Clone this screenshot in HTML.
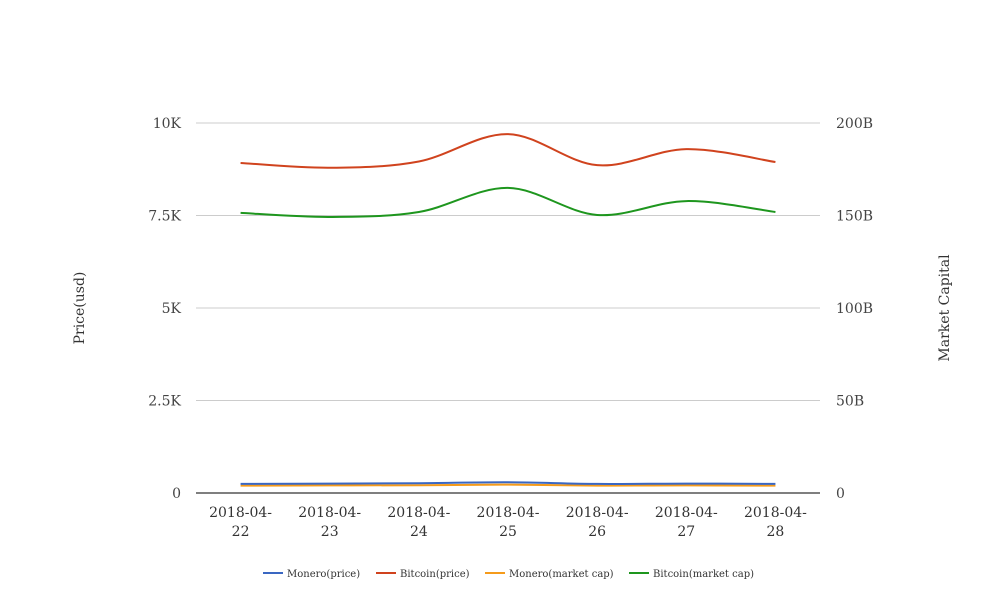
<!DOCTYPE html>
<html><head><meta charset="utf-8"><style>
body{margin:0;background:#fff;}
svg{display:block;font-family:"DejaVu Serif","Liberation Serif",serif;}
</style></head><body>
<svg id="chart" width="1008" height="616"></svg>
<script>
const categories=["2018-04-22","2018-04-23","2018-04-24","2018-04-25","2018-04-26","2018-04-27","2018-04-28"];
const moneroPrice=[245,255,265,290,245,255,245];
const bitcoinPrice=[8920,8790,8960,9700,8860,9295,8945];
const moneroCap=[4.0,4.1,4.2,4.5,4.0,4.1,4.0];
const bitcoinCap=[151.4,149.2,151.9,164.9,150.3,157.8,151.9];
const leftTicks=[0,2500,5000,7500,10000];
const leftTickLabels=["0","2.5K","5K","7.5K","10K"];
const rightTicks=[0,50,100,150,200];
const rightTickLabels=["0","50B","100B","150B","200B"];
const seriesNames=["Monero(price)","Bitcoin(price)","Monero(market cap)","Bitcoin(market cap)"];
const seriesColors=["#3a67c2","#d0431e","#f59b1b","#1e961e"];

const NS="http://www.w3.org/2000/svg";
const svg=document.getElementById('chart');
const X0=196,X1=820,Y0=493,Y1=123;
const step=(X1-X0)/categories.length;
const xS=i=>X0+step*(i+0.5);
const yL=v=>Y0-v/10000*(Y0-Y1);
const yR=v=>Y0-v/200*(Y0-Y1);
function mk(tag,attrs,parent){const e=document.createElementNS(NS,tag);for(const k in attrs)e.setAttribute(k,attrs[k]);(parent||svg).appendChild(e);return e;}

leftTicks.forEach((t,i)=>{
  const g=mk('line',{x1:X0,x2:X1,y1:yL(t),y2:yL(t),stroke:i===0?'#333':'#ccc','stroke-width':i===0?1.2:1});
  
  
  const l=mk('text',{x:181,y:yL(t)+5,'text-anchor':'end','font-size':14,fill:'#444'});
  l.textContent=leftTickLabels[i];
  
  
});
rightTicks.forEach((t,i)=>{
  const l=mk('text',{x:836,y:yR(t)+5,'text-anchor':'start','font-size':14,fill:'#444'});
  l.textContent=rightTickLabels[i];
  
  
});
categories.forEach((c,i)=>{
  const p=c.split('-');
  const t=mk('text',{x:xS(i),y:517,'text-anchor':'middle','font-size':14,fill:'#333'});
  
  
  const a=mk('tspan',{x:xS(i)},t);a.textContent=p[0]+'-'+p[1]+'-';
  const b=mk('tspan',{x:xS(i),dy:19},t);b.textContent=p[2];
});
const yt=mk('text',{x:0,y:0,transform:'translate(84,308) rotate(-90)','text-anchor':'middle','font-size':14,fill:'#333'});
yt.textContent='Price(usd)';


const yt2=mk('text',{x:0,y:0,transform:'translate(949,308) rotate(-90)','text-anchor':'middle','font-size':14,fill:'#333'});
yt2.textContent='Market Capital';



function curve(pts){
  let d='M'+pts[0][0]+','+pts[0][1];
  for(let i=0;i<pts.length-1;i++){
    const p0=pts[i-1]||pts[i],p1=pts[i],p2=pts[i+1],p3=pts[i+2]||p2;
    const c1=[p1[0]+(p2[0]-p0[0])/6,p1[1]+(p2[1]-p0[1])/6];
    const c2=[p2[0]-(p3[0]-p1[0])/6,p2[1]-(p3[1]-p1[1])/6];
    d+=' C'+c1+' '+c2+' '+p2;
  }
  return d;
}
const seriesData=[moneroPrice,bitcoinPrice,moneroCap,bitcoinCap];
const scales=[yL,yL,yR,yR];
const order=[2,0,3,1];
order.forEach(s=>{
  const pts=seriesData[s].map((v,i)=>[xS(i),scales[s](v)]);
  const p=mk('path',{d:curve(pts),fill:'none',stroke:seriesColors[s],'stroke-width':2});
  
  
});
const legendX=[263,376,485,629];
seriesNames.forEach((n,i)=>{
  const g=mk('g',{});
  
  
  mk('line',{x1:legendX[i],x2:legendX[i]+20,y1:573,y2:573,stroke:seriesColors[i],'stroke-width':2},g);
  const t=mk('text',{x:legendX[i]+24,y:577,'font-size':10,fill:'#333'},g);
  t.textContent=n;
});
</script>
</body></html>
